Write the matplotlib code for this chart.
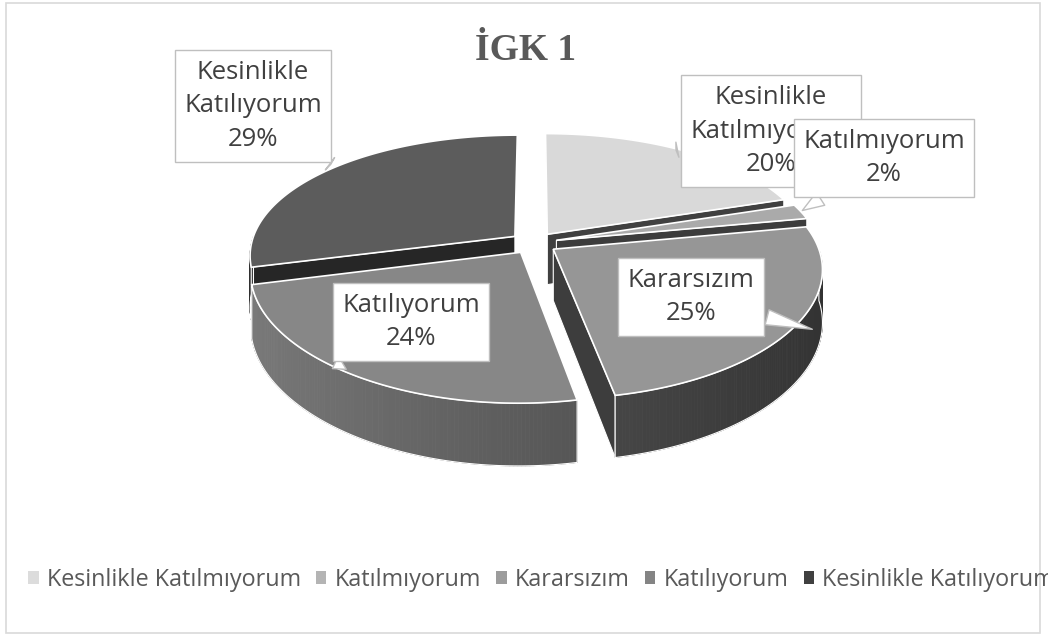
import numpy as np
import matplotlib.pyplot as plt
from matplotlib.patches import Polygon, Rectangle, Patch

plt.rcParams['font.family'] = ['Open Sans', 'DejaVu Sans']

title = 'İGK 1'
categories = ['Kesinlikle Katılmıyorum', 'Katılmıyorum', 'Kararsızım', 'Katılıyorum', 'Kesinlikle Katılıyorum']
values = [20, 2, 25, 24, 29]

top_colors = ['#d9d9d9', '#aaaaaa', '#969696', '#878787', '#5c5c5c']
side_colors = ['#505050', '#505050', '#646464', '#7b7b7b', '#303030']
face_colors = ['#404040', '#3c3c3c', '#3d3d3d', '#555555', '#262626']
legend_colors = ['#dcdcdc', '#b4b4b4', '#9c9c9c', '#848484', '#404040']

# label boxes (pixel centre) and where the callout points
box_pos = [(771, 131), (884, 158), (691, 297), (411, 322), (253, 106)]
tail_pos = [(676, 150), (800, 212), (815, 330), (330, 370), (333, 166)]

# projection of the 3d pie (pixel space)
cx, cy, sx, sy, k, kx, H, e = 533.5, 243, 263.6, 121, 0.174, 0.15, 51, 0.09


def proj(X, Z, depth=0.0):
    w = 1 + k * Z
    return cx + sx * X / (1 + kx * Z), cy - sy * Z / w + H * depth / w


fig = plt.figure(figsize=(10.48, 6.4), dpi=100)
ax = fig.add_axes([0, 0, 1, 1])
ax.set_xlim(0, 1048)
ax.set_ylim(640, 0)
ax.axis('off')
ax.add_patch(Rectangle((6, 3), 1034, 630, fill=False, ec='#d9d9d9', lw=1.2))

ends = np.cumsum(values) / sum(values) * 360
starts = ends - np.array(values) / sum(values) * 360
mids = (starts + ends) / 2
ox = e * np.sin(np.deg2rad(mids))
oz = e * np.cos(np.deg2rad(mids))


def lum(c, f):
    v = int(c[1:3], 16) * f
    v = int(max(0, min(255, v)))
    return '#%02x%02x%02x' % (v, v, v)


for i in np.argsort(-oz):
    t0, t1 = starts[i], ends[i]
    th = np.deg2rad(np.linspace(t0, t1, 200))
    X = ox[i] + np.sin(th)
    Z = oz[i] + np.cos(th)
    # radial faces that look at the viewer
    for t, vis in [(t0, np.sin(np.deg2rad(t0)) < -1e-6), (t1, np.sin(np.deg2rad(t1)) > 1e-6)]:
        if not vis:
            continue
        a = np.deg2rad(t)
        p = [proj(ox[i], oz[i]), proj(ox[i] + np.sin(a), oz[i] + np.cos(a)),
             proj(ox[i] + np.sin(a), oz[i] + np.cos(a), 1), proj(ox[i], oz[i], 1)]
        ax.add_patch(Polygon(p, fc=face_colors[i], ec='white', lw=0.8, zorder=2))
    # outer wall, front half only
    lo, hi = max(t0, 90), min(t1, 270)
    if hi > lo:
        tw = np.deg2rad(np.linspace(lo, hi, 120))
        Xw = ox[i] + np.sin(tw)
        Zw = oz[i] + np.cos(tw)
        for j in range(len(tw) - 1):
            f = 0.75 - 0.25 * np.sin((tw[j] + tw[j + 1]) / 2)
            q = [proj(Xw[j], Zw[j]), proj(Xw[j + 1], Zw[j + 1]),
                 proj(Xw[j + 1], Zw[j + 1], 1), proj(Xw[j], Zw[j], 1)]
            c = lum(side_colors[i], f)
            ax.add_patch(Polygon(q, fc=c, ec=c, lw=0.6, zorder=2))
        outline = [proj(a, b) for a, b in zip(Xw, Zw)] + [proj(a, b, 1) for a, b in zip(Xw[::-1], Zw[::-1])]
        ax.add_patch(Polygon(outline, fill=False, ec='white', lw=0.8, zorder=2))
    top = [proj(ox[i], oz[i])] + [proj(a, b) for a, b in zip(X, Z)]
    ax.add_patch(Polygon(top, fc=top_colors[i], ec='white', lw=1.2, zorder=2))

ax.text(526, 50, title, ha='center', va='center', fontsize=27, fontweight='bold',
        family='Liberation Serif', color='#595959')

for i, cat in enumerate(categories):
    txt = cat.replace(' ', '\n') + '\n' + f'{values[i]}%'
    ax.annotate(txt, xy=tail_pos[i], xytext=box_pos[i], ha='center', va='center',
                fontsize=18.5, color='#404040', linespacing=1.45, zorder=6 if i == 1 else 5,
                bbox=dict(boxstyle='square,pad=0.37', fc='white', ec='#bfbfbf', lw=1),
                arrowprops=dict(arrowstyle='wedge,tail_width=0.6,shrink_factor=0.5', fc='white',
                                ec='#bfbfbf', lw=1))

handles = [Patch(fc=c, ec='none') for c in legend_colors]
ax.legend(handles, categories, ncol=5, loc='center left', bbox_to_anchor=(28, 580),
          bbox_transform=ax.transData, frameon=False, fontsize=16.8, labelcolor='#595959',
          handlelength=0.45, handleheight=0.45, handletextpad=0.35, columnspacing=0.65,
          borderpad=0, borderaxespad=0)

fig.savefig('out.png', dpi=100)
